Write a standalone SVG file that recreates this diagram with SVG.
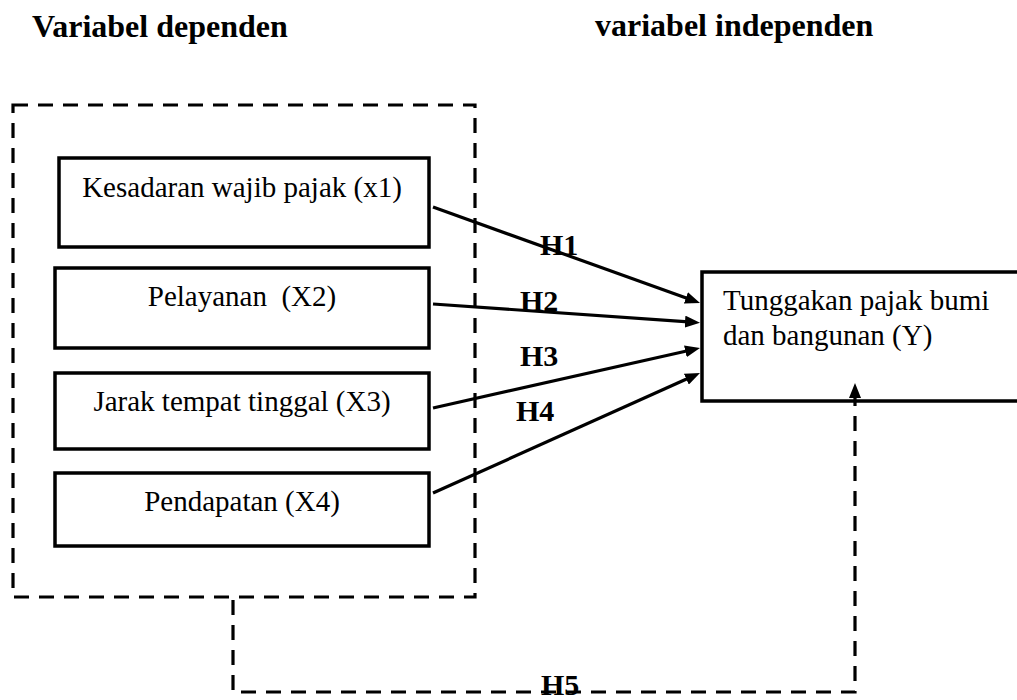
<svg xmlns="http://www.w3.org/2000/svg" width="1017" height="700" viewBox="0 0 1017 700">
  <style>
    .bg { fill: #ffffff; }
    .box { fill: #ffffff; stroke: #000000; stroke-width: 3.5; }
    .dash { fill: none; stroke: #000000; stroke-width: 3.2; stroke-dasharray: 15 10; }
    .line { fill: none; stroke: #000000; stroke-width: 3.2; }
    .txt { font-family: "Liberation Serif", "Times New Roman", serif; font-size: 29px; fill: #000000; }
    .head { font-family: "Liberation Serif", "Times New Roman", serif; font-size: 32px; font-weight: bold; fill: #000000; }
    .lab { font-family: "Liberation Serif", "Times New Roman", serif; font-size: 30px; font-weight: bold; fill: #000000; }
  </style>
  <defs>
    <marker id="arr" viewBox="0 0 15 12" refX="7" refY="6" markerWidth="15" markerHeight="12" markerUnits="userSpaceOnUse" orient="auto-start-reverse">
      <path d="M0,0 L15,6 L0,12 Z" fill="#000000"/>
    </marker>
  </defs>
  <rect class="bg" x="0" y="0" width="1017" height="700"/>

  <g id="headings">
    <text class="head" x="32" y="37">Variabel dependen</text>
    <text class="head" x="595" y="36">variabel independen</text>
  </g>

  <g id="group-independent">
    <rect class="dash" x="13" y="105" width="462" height="492"/>
  </g>

  <g id="node-x1">
    <rect class="box" x="59" y="158" width="370" height="89"/>
    <text class="txt" x="242" y="197" text-anchor="middle">Kesadaran wajib pajak (x1)</text>
  </g>
  <g id="node-x2">
    <rect class="box" x="55" y="268" width="374" height="80"/>
    <text class="txt" x="242" y="306" text-anchor="middle" xml:space="preserve">Pelayanan  (X2)</text>
  </g>
  <g id="node-x3">
    <rect class="box" x="55" y="373" width="374" height="76"/>
    <text class="txt" x="242" y="411" text-anchor="middle">Jarak tempat tinggal (X3)</text>
  </g>
  <g id="node-x4">
    <rect class="box" x="55" y="473" width="374" height="73"/>
    <text class="txt" x="242" y="511" text-anchor="middle">Pendapatan (X4)</text>
  </g>

  <g id="node-y">
    <path class="box" d="M1025,272 H702 V401 H1025" fill="#ffffff"/>
    <text class="txt" x="723" y="310">Tunggakan pajak bumi</text>
    <text class="txt" x="723" y="345">dan bangunan (Y)</text>
  </g>

  <g id="connectors">
    <line class="line" x1="433" y1="207" x2="692.5" y2="300.3" marker-end="url(#arr)"/>
    <line class="line" x1="433" y1="304" x2="692" y2="322.1" marker-end="url(#arr)"/>
    <line class="line" x1="433" y1="408" x2="692.2" y2="349.8" marker-end="url(#arr)"/>
    <line class="line" x1="433" y1="493" x2="692.7" y2="376.3" marker-end="url(#arr)"/>
    <path class="dash" d="M855,391 V692 H233 V597" marker-start="url(#arr)"/>
  </g>

  <g id="labels">
    <text class="lab" x="540" y="255">H1</text>
    <text class="lab" x="520" y="311">H2</text>
    <text class="lab" x="520" y="366">H3</text>
    <text class="lab" x="516" y="421">H4</text>
    <text class="lab" x="541" y="695">H5</text>
  </g>
</svg>
